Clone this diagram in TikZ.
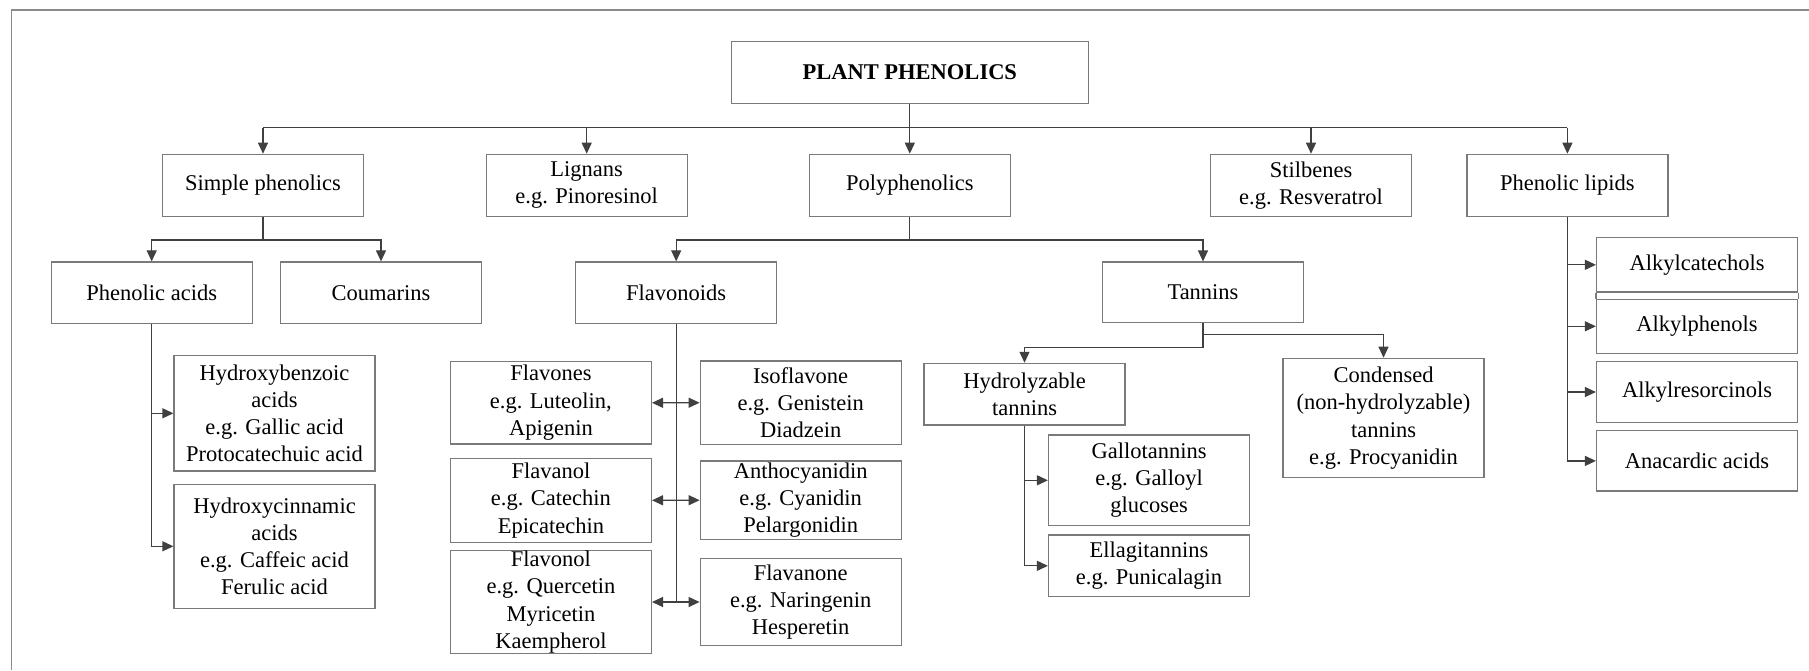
\documentclass[tikz,border=0pt]{standalone}
\usepackage{fontspec}
\setmainfont{Liberation Serif}
\usetikzlibrary{arrows.meta}
\definecolor{boxc}{HTML}{7A7A7A}
\definecolor{linec}{HTML}{404040}
\definecolor{framec}{HTML}{8A8A8A}
\tikzset{
  box/.style={draw=boxc, line width=1.2pt, inner sep=0pt, align=center,
    font=\fontsize{22.5}{27.3}\selectfont, minimum width=201pt},
  con/.style={draw=linec, line width=1.2pt},
  arr/.style={con, -{Triangle[length=11pt,width=10pt]}},
  darr/.style={con, {Triangle[length=11pt,width=10pt]}-{Triangle[length=11pt,width=10pt]}},
  boxline/.style={draw=boxc, line width=1.2pt},
}
\begin{document}
\begin{tikzpicture}[x=1pt,y=-1pt]
\useasboundingbox (0,0) rectangle (1809,670);
\draw[framec, line width=1.5pt] (1809,10) -- (11.5,10) -- (11.5,670);

% top level
\node[box, minimum width=357pt, minimum height=61.6pt, font={\fontsize{22.5}{27.3}\selectfont\bfseries}] (pp) at (909.8,72.5) {PLANT PHENOLICS};
\node[box, minimum height=62pt] (simple) at (263,185.3) {Simple phenolics};
\node[box, minimum height=62pt] (lign) at (586.7,185.3) {Lignans\\e.g. Pinoresinol};
\node[box, minimum height=62pt] (poly) at (909.8,185.3) {Polyphenolics};
\node[box, minimum height=62pt] (stil) at (1311,185.3) {Stilbenes\\e.g. Resveratrol};
\node[box, minimum height=62pt] (lipid) at (1567.4,185.3) {Phenolic lipids};

% second level
\node[box, minimum height=61.7pt] (pacid) at (151.7,292.8) {Phenolic acids};
\node[box, minimum height=61.7pt] (coum) at (381,292.8) {Coumarins};
\node[box, minimum height=61.7pt] (flav) at (676.2,292.8) {Flavonoids};
\node[box, minimum height=60.7pt] (tann) at (1203,292.4) {Tannins};

% simple phenolics children
\node[box, minimum height=115.3pt] (hba) at (274.5,413.3) {Hydroxybenzoic\\acids\\e.g. Gallic acid\\Protocatechuic acid};
\node[box, minimum height=124pt] (hca) at (274.5,546.3) {Hydroxycinnamic\\acids\\e.g. Caffeic acid\\Ferulic acid};

% flavonoids children
\node[box, minimum height=82.5pt] (fvs) at (550.9,402.8) {Flavones\\e.g. Luteolin,\\Apigenin};
\node[box, minimum height=84pt] (fvl) at (550.9,500.3) {Flavanol\\e.g. Catechin\\Epicatechin};
\node[box, minimum height=102pt] (fnl) at (550.9,602) {Flavonol\\e.g. Quercetin\\Myricetin\\Kaempherol};
\node[box, minimum height=83.3pt] (iso) at (800.7,402.7) {Isoflavone\\e.g. Genistein\\Diadzein};
\node[box, minimum height=78.3pt] (anth) at (800.7,500.2) {Anthocyanidin\\e.g. Cyanidin\\Pelargonidin};
\node[box, minimum height=87.4pt] (fnon) at (800.7,602) {Flavanone\\e.g. Naringenin\\Hesperetin};

% tannins children
\node[box, minimum height=61.7pt] (hyd) at (1024.5,394.2) {Hydrolyzable\\tannins};
\node[box, minimum height=119.4pt] (cond) at (1383.5,418) {Condensed\\(non-hydrolyzable)\\tannins\\e.g. Procyanidin};
\node[box, minimum height=90.7pt] (gall) at (1149,480.3) {Gallotannins\\e.g. Galloyl\\glucoses};
\node[box, minimum height=61.7pt] (ella) at (1149,565.8) {Ellagitannins\\e.g. Punicalagin};

% phenolic lipids children
\node[box, minimum height=54.3pt] (alkc) at (1697,264.8) {Alkylcatechols};
\node[box, minimum height=54pt] (alkp) at (1697,326.3) {Alkylphenols};
\node[box, minimum height=60.6pt] (alkr) at (1697,392) {Alkylresorcinols};
\node[box, minimum height=60.3pt] (anac) at (1697,460.9) {Anacardic acids};
\draw[boxline] (alkc.south west) -- (alkp.north west);
\draw[boxline] (alkc.south east) -- (alkp.north east);

% connectors
\coordinate (tb) at (0,127.5);
\coordinate (sb) at (0,240);
\coordinate (tr) at (0,334.7);
\coordinate (tl) at (0,347.3);

\draw[con] (pp.south) -- (pp.south |- tb);
\draw[con] (simple.north |- tb) -- (lipid.north |- tb);
\draw[arr] (pp.south) -- (poly.north);
\foreach \n in {simple,lign,stil,lipid}
  \draw[arr] (\n.north |- tb) -- (\n.north);

\draw[arr] (simple.south) -- (simple.south |- sb) -| (pacid.north);
\draw[arr] (simple.south |- sb) -| (coum.north);
\draw[arr] (poly.south) -- (poly.south |- sb) -| (flav.north);
\draw[arr] (poly.south |- sb) -| (tann.north);

\draw[arr] (pacid.south) |- (hba.west);
\draw[arr] (pacid.south) |- (hca.west);

\draw[con] (flav.south) -- (flav.south |- fnl.east);
\draw[darr] (fvs.east) -- (iso.west);
\draw[darr] (fvl.east) -- (anth.west);
\draw[darr] (fnl.east) -- (fnon.west);

\draw[arr] (tann.south) -- (tann.south |- tr) -| (cond.north);
\draw[arr] (tann.south |- tr) -- (tann.south |- tl) -| (hyd.north);
\draw[arr] (hyd.south) |- (gall.west);
\draw[arr] (hyd.south) |- (ella.west);

\draw[arr] (lipid.south) |- (alkc.west);
\draw[arr] (lipid.south) |- (alkp.west);
\draw[arr] (lipid.south) |- (alkr.west);
\draw[arr] (lipid.south) |- (anac.west);
\end{tikzpicture}
\end{document}
